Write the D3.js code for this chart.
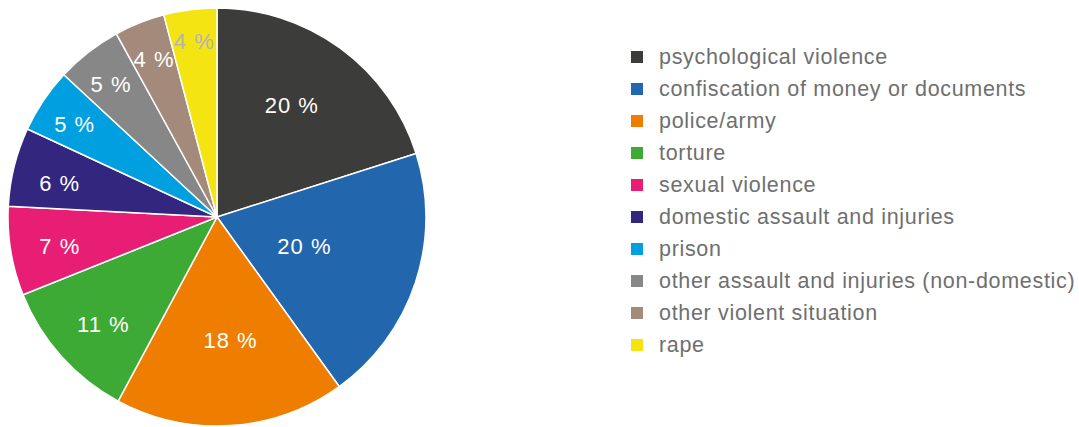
<!DOCTYPE html>
<html><head><meta charset="utf-8">
<script src="https://cdn.jsdelivr.net/npm/d3@7"></script>
<style>
html,body{margin:0;padding:0;background:#fff;}
svg{display:block;}
</style></head>
<body>
<svg id="chart" width="1079" height="427"></svg>
<script>
const categories = ["psychological violence","confiscation of money or documents","police/army","torture","sexual violence","domestic assault and injuries","prison","other assault and injuries (non-domestic)","other violent situation","rape"];
const values = [20.1, 20.0, 17.8, 11.1, 6.9, 6.1, 5.0, 5.1, 3.9, 4.1];
const labels = ["20 %","20 %","18 %","11 %","7 %","6 %","5 %","5 %","4 %","4 %"];
const colors = ["#3c3c3b","#2266ae","#ef7d00","#3caa35","#e71e74","#32267f","#009fe0","#878787","#a48a7b","#f4e512"];
const labelColors = ["#fff","#fff","#fff","#fff","#fff","#fff","#fff","#fff","#fff","#b3b3b3"];
// label placement (layout): distance from centre and angular nudge in degrees
const labelRadius = [135, 92, 124, 156, 160, 161, 170, 170, 170, 177];
const labelShift = [-2.5, 0, -2.5, -1.4, -1.2, -1.6, -0.8, -0.6, 0, 0];

const svg = d3.select("#chart");
const cx = 217, cy = 217, R = 209;
const g = svg.append("g").attr("transform", `translate(${cx},${cy})`);
const pie = d3.pie().sort(null).value(d => d)(values);
const arc = d3.arc().innerRadius(0).outerRadius(R);
g.selectAll("path").data(pie).join("path")
  .attr("d", arc)
  .attr("fill", (d,i) => colors[i])
  .attr("stroke", "#fff").attr("stroke-width", 1.5).attr("stroke-linejoin","round");
g.selectAll("text").data(pie).join("text")
  .attr("transform", (d,i) => {
    const a = (d.startAngle + d.endAngle)/2 + labelShift[i]*Math.PI/180;
    const r = labelRadius[i];
    return `translate(${Math.sin(a)*r},${-Math.cos(a)*r})`;
  })
  .attr("text-anchor","middle").attr("dy","0.36em")
  .attr("font-family","'Liberation Sans', Arial, sans-serif")
  .attr("font-size", 22)
  .attr("letter-spacing", "1px")
  .attr("fill", (d,i) => labelColors[i])
  .text((d,i) => labels[i]);

const legend = svg.append("g").attr("transform","translate(631,57)");
const rows = legend.selectAll("g").data(categories).join("g")
  .attr("transform", (d,i) => `translate(0,${i*32})`);
rows.append("rect").attr("x",0).attr("y",-6).attr("width",12).attr("height",12)
  .attr("fill", (d,i) => colors[i]);
rows.append("text").attr("x",28).attr("dy","0.34em")
  .attr("font-family","'Liberation Sans', Arial, sans-serif")
  .attr("font-size", 21.5)
  .attr("letter-spacing", "0.68px")
  .attr("fill","#6f6f6f")
  .text(d => d);
</script>
</body></html>
